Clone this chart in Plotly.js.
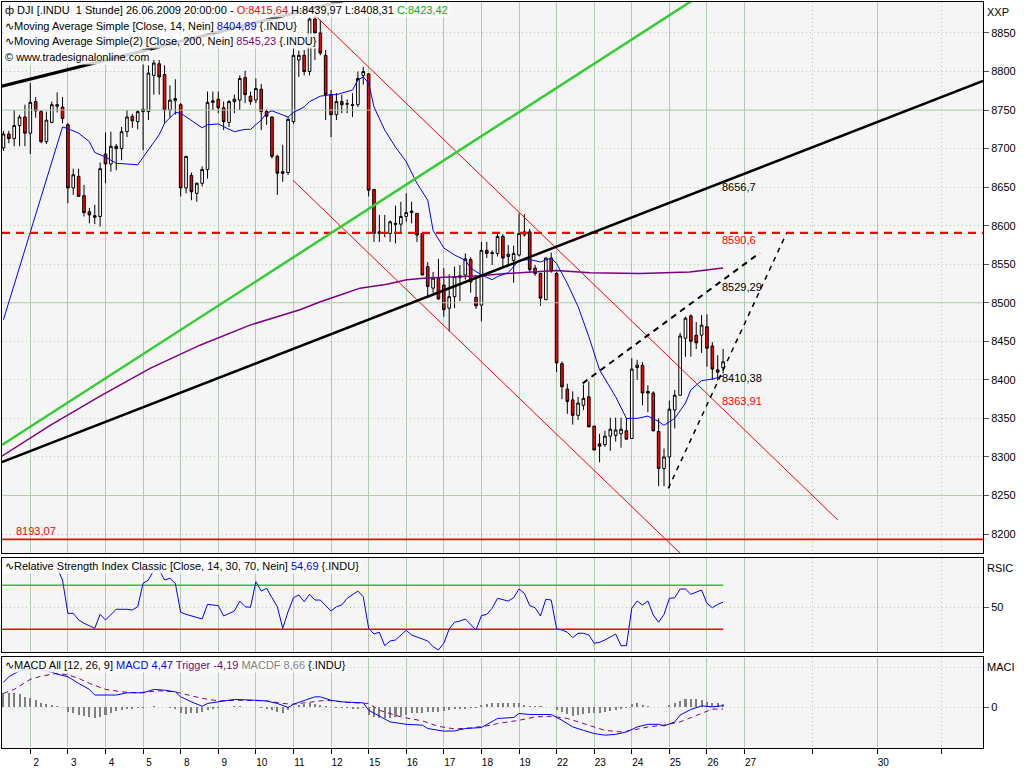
<!DOCTYPE html>
<html><head><meta charset="utf-8">
<script src="https://cdn.plot.ly/plotly-3.0.1.min.js"></script>
<style>html,body{margin:0;padding:0;background:#fff}#chart{width:1024px;height:768px}</style>
</head><body><div id="chart"></div>
<script>
// ---- DJI hourly candles (bar 2 .. 136) ----
const firstBar = 2;
const open = [8701,8719,8713,8730,8741,8720,8761,8748,8709,8734,
 8755,8754,8731,8649,8664,8639,8618,8613,8612,8693,
 8680,8703,8700,8722,8742,8735,8751,8748,8795,8810,
 8796,8750,8762,8757,8649,8665,8642,8655,8673,8760,
 8764,8753,8734,8761,8763,8792,8768,8763,8777,8748,
 8741,8690,8670,8669,8735,8815,8821,8800,8868,8850,
 8821,8770,8744,8761,8758,8757,8757,8795,8797,8647,
 8592,8590,8590,8603,8602,8612,8617,8616,8590,8547,
 8519,8532,8523,8493,8508,8533,8536,8556,8507,8497,
 8568,8565,8564,8586,8560,8555,8562,8588,8592,8545,
 8538,8504,8558,8538,8421,8388,8374,8354,8367,8378,
 8340,8317,8316,8327,8328,8330,8334,8324,8416,8419,
 8385,8383,8333,8285,8300,8361,8380,8454,8483,8458,
 8458,8469,8444,8413,8415.64];
const high = [8723,8723,8750,8744,8757,8785,8767,8750,8748,8761,
 8773,8767,8733,8674,8674,8653,8623,8627,8682,8721,
 8722,8706,8728,8750,8745,8750,8828,8808,8815,8815,
 8808,8782,8790,8759,8690,8669,8656,8677,8774,8774,
 8774,8761,8763,8770,8795,8801,8774,8791,8784,8751,
 8742,8692,8705,8741,8830,8827,8828,8870,8873,8867,
 8828,8776,8772,8770,8764,8772,8800,8806,8797,8647,
 8614,8614,8607,8626,8631,8642,8631,8616,8590,8553,
 8540,8557,8545,8537,8547,8549,8564,8559,8535,8579,
 8579,8568,8589,8589,8575,8574,8616,8615,8596,8549,
 8539,8559,8565,8540,8424,8395,8385,8378,8394,8398,
 8340,8330,8334,8351,8351,8351,8351,8428,8426,8423,
 8393,8385,8350,8311,8373,8387,8461,8482,8485,8475,
 8484,8485,8449,8432,8439.97];
const low = [8697,8707,8703,8703,8703,8693,8740,8707,8706,8733,
 8747,8733,8629,8640,8638,8612,8603,8602,8599,8655,
 8670,8672,8685,8715,8727,8725,8698,8737,8770,8770,
 8733,8740,8744,8638,8642,8633,8631,8651,8661,8750,
 8746,8724,8728,8746,8750,8759,8757,8759,8724,8731,
 8687,8640,8657,8666,8732,8793,8795,8795,8815,8821,
 8737,8715,8737,8746,8746,8741,8754,8783,8638,8579,
 8579,8585,8579,8577,8590,8605,8603,8579,8536,8509,
 8513,8504,8482,8463,8493,8502,8530,8513,8492,8476,
 8558,8549,8560,8547,8549,8526,8560,8586,8539,8535,
 8496,8504,8539,8410,8375,8356,8342,8348,8361,8339,
 8309,8293,8313,8308,8320,8312,8323,8324,8400,8367,
 8358,8333,8262,8262,8260,8337,8380,8430,8430,8440,
 8435,8417,8400,8399,8408.31];
const close = [8719,8713,8730,8741,8720,8760,8749,8709,8737,8757,
 8757,8739,8649,8666,8638,8617,8614,8611,8674,8680,
 8703,8700,8722,8741,8736,8748,8748,8798,8811,8793,
 8750,8763,8765,8649,8690,8644,8655,8673,8760,8762,
 8753,8735,8761,8764,8791,8770,8761,8778,8748,8742,
 8690,8668,8668,8738,8821,8821,8800,8868,8850,8824,
 8770,8744,8761,8757,8758,8756,8791,8800,8646,8590,
 8590,8591,8605,8602,8612,8617,8619,8588,8536,8521,
 8532,8505,8491,8508,8534,8535,8557,8527,8496,8568,
 8564,8564,8586,8558,8563,8564,8590,8592,8543,8538,
 8506,8558,8541,8422,8391,8372,8354,8370,8376,8339,
 8309,8314,8327,8336,8335,8336,8323,8414,8419,8383,
 8383,8334,8285,8300,8362,8380,8457,8480,8450,8448,
 8471,8441,8414,8410,8423.42];
const barNo = open.map((_, i) => firstBar + i);

// ---- Moving averages ----
const ma14Bar = [2,7,13,14,16,18,19,21,22,23,27,29,31,32,34,35,37,39,40,42,44,45,47,48,50,51,52,53,55,56,58,59,61,63,64,67,68,69,70,71,73,75,77,79,81,82,84,86,88,89,91,93,94,96,98,100,102,104,105,107,109,111,113,116,118,120,122,124,125,127,129,130,132,134,136];
const ma14Val = [8478,8592,8728,8726,8720,8709,8695,8689,8685,8681,8679,8698,8718,8733,8747,8746,8737,8727,8731,8732,8725,8722,8725,8725,8737,8746,8749,8746,8741,8747,8754,8761,8768,8770,8770,8776,8789,8793,8785,8754,8724,8702,8683,8655,8633,8594,8571,8562,8555,8545,8536,8530,8534,8539,8555,8556,8553,8558,8551,8525,8495,8456,8413,8378,8350,8350,8353,8346,8341,8350,8370,8387,8399,8401,8404.89];
const ma200Bar = [1.7,10.7,20,29.3,38.6,47.9,57.2,60.9,64.7,68.4,73.4,77.1,80.8,85.8,90.7,95.7,100.7,105,111.2,120.5,129.8,136];
const ma200Val = [8301,8341,8379,8415,8445,8471,8491,8501,8510,8519,8524,8530,8532,8534,8535,8538,8540,8542,8539,8538,8540,8545.23];

// ---- RSI ----
const rsiBar = [11,12,13,14,15,16,17,19,20,21,23,25,26,27,28,29,30,31,32,33,34,35,36,39,40,42,43,45,46,47,48,49,50,51,52,53,54,55,56,57,58,59,60,61,63,64,65,66,68,69,70,71,72,73,74,75,77,78,80,81,82,83,84,85,86,87,88,89,90,91,92,93,94,96,97,98,99,100,101,102,103,104,105,106,107,108,109,110,111,112,113,114,116,117,118,119,120,121,122,123,124,125,126,127,128,129,130,132,133,134,135,136];
const rsiVal = [92.1,85.5,74.8,44.5,44.5,38.5,35.5,30.9,43.6,38.5,48.2,48.2,47.5,50.5,71.8,74.8,83.9,83.9,74.8,76.4,71.8,45.5,43.6,39.4,52.7,51.5,42.1,46.6,55.7,50.5,50,73.3,64.8,67.3,58.7,50.5,30.9,46,58.7,61.2,55.1,61.8,56.6,56.6,46.6,50.5,52.1,58.2,64.8,59.6,30.9,25.7,27.3,15.1,19.4,20.3,29.1,24.8,21.2,19.4,14.2,11.2,17.3,30.3,36.4,37.5,39.4,33.9,29.4,42.4,43.6,49.1,58.2,55.7,58.7,66.6,62.7,51.5,49.6,42.1,57.3,56.6,30.3,29.4,27.3,22.4,26.4,26.4,24.8,17.3,18.2,20.3,25.7,15.1,15.1,49.1,55.7,52.1,55.7,43,36.4,43.6,58.2,58.7,66.6,66.6,61.8,65.7,53.6,49.6,52.7,54.69];
const rsiLevels = [70, 30];

// ---- MACD ----
const macdBar = [2,3,5,7,9,11,12,14,16,18,19,21,23,25,28,30,32,34,35,37,39,40,42,45,49,51,53,55,56,58,60,61,63,65,67,69,70,72,74,77,80,81,84,86,88,91,93,94,97,98,100,104,106,108,110,112,114,116,118,120,122,124,125,127,128,130,132,134,136];
const macdVal = [62.5,76.5,91.5,95,93,88,83,76.5,60,45,31,31,31,36.5,36.5,45,43,39,26.5,14,3,10,14,20,18,16,10,0,8,16.5,26.5,26.5,18,14,12.5,11.5,-7,-22,-36,-42,-44,-52.5,-59,-58.5,-52.5,-50,-36,-27.5,-25,-15,-17.5,-17.5,-32,-48.5,-57,-65,-69,-67,-61,-48.5,-42,-42,-46,-36,-19,-5,4,1.5,4.47];
const trigBar = [2,4,7,9,12,14,16,18,21,24,27,31,34,36,39,42,46,51,54,56,58,62,66,70,72,76,80,83,86,89,93,94,96,98,101,104,107,111,114,117,119,122,125,128,132,134,136];
const trigVal = [35,45,70,78,85,81,72.5,60,45,39,36.5,41.5,39,33,22.5,16.5,18,16.5,10,8,11.5,18,12.5,10,-7,-23.5,-33.5,-47,-53.5,-51,-44,-40,-36,-32,-23.5,-22,-27.5,-44,-57,-61,-57,-48.5,-44,-36,-15,-4,-4.19];
const macdHist = [35,36.7,36.7,33,26.7,22.5,18,11.7,8,6,
 3,0.5,-10.8,-13,-19,-21.7,-23,-27.5,-23,-19,
 -13,-9,-6.7,-5,-5,-2.5,-2.5,0.5,3,1.7,
 0.5,-2.5,-5,-15,-16.7,-15,-15,-10.8,-6.7,-5,
 -2.5,0.5,1.7,3,3,1.7,0.5,0.5,-2.5,-5,
 -6.7,-10.8,-13,-6.7,0.5,6,8,10,8,6,
 3,1.7,-2.5,-2.5,-2.5,-5,-5,-2.5,-19,-23,
 -27.5,-27.5,-26,-23,-21.7,-19,-15,-13,-13,-10.8,
 -10.8,-10.8,-9,-6.7,-5,-5,-4,-2.5,-2.5,6,
 8,10,10,11.7,11.7,11.7,11.7,6,4,4,
 4,1.7,0.5,-6.7,-10.8,-17.5,-21,-19,-17.5,-15,
 -15,-13,-10.8,-8,-6.7,-4,-2.5,8,10,6,
 4,1.7,0.5,1.7,6,10,16,20,21,21,
 18,14,11.7,10,8.66];

// ---- drawn trend lines (bar, price) ----
const blackTopBars = [1.7, 75.8],   blackTopPrices = [8781, 8910];
const blackLongBars = [1.7, 184.4], blackLongPrices = [8293.4, 8787.7];
const greenBars = [1.7, 140],       greenPrices = [8315.5, 8935.8];
const chanUpBars = [60, 157.4],     chanUpPrices = [8873, 8218];
const chanLowBars = [55.9, 140],    chanLowPrices = [8659, 8094.6];
const dash1Bars = [109.85, 142.86], dash1Prices = [8395.5, 8564.9];
const dash2Bars = [125.8, 147.8],   dash2Prices = [8259.3, 8590.1];
const redDashLevel = 8590.6, redSolidLevel = 8193.07;
const lineLabels = [
  {bar: 135.7, price: 8650, text: '8656,7', color: '#000000'},
  {bar: 135.7, price: 8581, text: '8590,6', color: '#ff0000'},
  {bar: 135.7, price: 8520.5, text: '8529,29', color: '#000000'},
  {bar: 135.7, price: 8402.4, text: '8410,38', color: '#000000'},
  {bar: 135.7, price: 8372.6, text: '8363,91', color: '#ff0000'},
  {bar: 4.1, price: 8204, text: '8193,07', color: '#ff0000'}
];

// ---- axes ----
const dayTickBars = [7,14,21,28,35,42,49,56,63,70,77,84,91,98,105,112,119,126,133,140,164.7];
const dayTickLabels = ['2','3','4','5','8','9','10','11','12','15','16','17','18','19','22','23','24','25','26','27','30'];
const minorDayBars = [152.6, 176.7];
const priceTicks = [8200,8250,8300,8350,8400,8450,8500,8550,8600,8650,8700,8750,8800,8850];
const priceSolidGrid = [8250, 8500, 8750];
const xRange = [1.73, 184.4];
const priceRange = [8175.4, 8890.2];
const rsiRange = [9.1, 95.1];
const macdRange = [-101, 126.5];

const GRID = '#b3c9b3';
const DOT = '1px,3px';
const full = (v) => [v, v];
const lastBar = barNo[barNo.length - 1];

const traces = [
  ...priceSolidGrid.map(v => ({type:'scatter', mode:'lines', x: xRange, y: full(v), line:{color:GRID, width:1}, xaxis:'x', yaxis:'y'})),
  {type:'candlestick', x: barNo, open, high, low, close, xaxis:'x', yaxis:'y',
   increasing:{line:{color:'#000', width:1}, fillcolor:'#ffffff'},
   decreasing:{line:{color:'#000', width:1}, fillcolor:'#ff0000'},
   whiskerwidth:0, hoverinfo:'skip', showlegend:false},
  {type:'scatter', mode:'lines', x: ma200Bar, y: ma200Val, line:{color:'#800080', width:1.5}, xaxis:'x', yaxis:'y'},
  {type:'scatter', mode:'lines', x: ma14Bar, y: ma14Val, line:{color:'#0000ff', width:1}, xaxis:'x', yaxis:'y'},
  {type:'scatter', mode:'lines', x: xRange, y: full(redDashLevel), line:{color:'#ff0000', width:2.2, dash:'8px,6px'}, xaxis:'x', yaxis:'y'},
  {type:'scatter', mode:'lines', x: xRange, y: full(redSolidLevel), line:{color:'#ff0000', width:1.6}, xaxis:'x', yaxis:'y'},
  {type:'scatter', mode:'lines', x: chanUpBars, y: chanUpPrices, line:{color:'#ff0000', width:1}, xaxis:'x', yaxis:'y'},
  {type:'scatter', mode:'lines', x: chanLowBars, y: chanLowPrices, line:{color:'#ff0000', width:1}, xaxis:'x', yaxis:'y'},
  {type:'scatter', mode:'lines', x: greenBars, y: greenPrices, line:{color:'#33cc33', width:2.5}, xaxis:'x', yaxis:'y'},
  {type:'scatter', mode:'lines', x: blackTopBars, y: blackTopPrices, line:{color:'#000000', width:3}, xaxis:'x', yaxis:'y'},
  {type:'scatter', mode:'lines', x: blackLongBars, y: blackLongPrices, line:{color:'#000000', width:2.5}, xaxis:'x', yaxis:'y'},
  {type:'scatter', mode:'lines', x: dash1Bars, y: dash1Prices, line:{color:'#000000', width:2, dash:'6px,5px'}, xaxis:'x', yaxis:'y'},
  {type:'scatter', mode:'lines', x: dash2Bars, y: dash2Prices, line:{color:'#000000', width:1.5, dash:'5px,5px'}, xaxis:'x', yaxis:'y'},
  // RSI
  {type:'scatter', mode:'lines', x: [xRange[0], lastBar], y: full(rsiLevels[0]), line:{color:'#22cc22', width:1.5}, xaxis:'x2', yaxis:'y2'},
  {type:'scatter', mode:'lines', x: [xRange[0], lastBar], y: full(rsiLevels[1]), line:{color:'#ff0000', width:1.5}, xaxis:'x2', yaxis:'y2'},
  {type:'scatter', mode:'lines', x: rsiBar, y: rsiVal, line:{color:'#0000ff', width:1}, xaxis:'x2', yaxis:'y2'},
  // MACD
  {type:'bar', x: barNo, y: macdHist, width:0.38, marker:{color:'#808080', line:{width:0}}, xaxis:'x3', yaxis:'y3'},
  {type:'scatter', mode:'lines', x: trigBar, y: trigVal, line:{color:'#800080', width:1, dash:'5px,4px'}, xaxis:'x3', yaxis:'y3'},
  {type:'scatter', mode:'lines', x: macdBar, y: macdVal, line:{color:'#0000ff', width:1}, xaxis:'x3', yaxis:'y3'}
];

const xBase = (anchor, bottom) => ({
  domain:[0,1], anchor, range:xRange, showgrid:true, gridcolor:GRID, gridwidth:1,
  tickmode:'array', tickvals:dayTickBars, ticktext:dayTickLabels,
  showticklabels: bottom, ticks: bottom ? 'outside' : '', ticklen:5, tickcolor:'#000', tickwidth:1,
  ticklabelshift: 6, tickfont:{size:10, color:'#000'},
  minor:{tickvals:minorDayBars, showgrid:true, gridcolor:GRID, griddash:DOT, ticks: bottom ? 'outside' : '', ticklen:5, tickcolor:'#000'},
  showline:true, mirror:true, linecolor:'#000', linewidth:1, zeroline:false,
  rangeslider:{visible:false}, fixedrange:true
});

const priceDomain = [0.2614, 1], rsiDomain = [0.1283, 0.2551], macdDomain = [0, 0.1224];

const legendBg = 'rgba(255,255,255,0.82)';
const topAnn = (text, yDom, shift) => ({xref:'paper', yref:'paper', x:0, y:yDom, xanchor:'left', yanchor:'top',
  xshift:1, yshift:shift, text, showarrow:false, bgcolor:legendBg, borderpad:1, align:'left', font:{size:11, color:'#000'}});

const annotations = [
  topAnn('ф DJI [.INDU\u00a0\u00a01 Stunde] 26.06.2009 20:00:00 - <span style="color:#ff0000">O:8415,64</span> H:8439,97 L:8408,31 <span style="color:#00b400">C:8423,42</span>', 1, 0),
  topAnn('∿Moving Average Simple [Close, 14, Nein] <span style="color:#0000ff">8404,89</span> {.INDU}', 1, -15.5),
  topAnn('∿Moving Average Simple(2) [Close, 200, Nein] <span style="color:#800080">8545,23</span> {.INDU}', 1, -31),
  topAnn('© www.tradesignalonline.com', 1, -46.5),
  topAnn('∿Relative Strength Index Classic [Close, 14, 30, 70, Nein] <span style="color:#0000ff">54,69</span> {.INDU}', rsiDomain[1], 0),
  topAnn('∿MACD All [12, 26, 9] <span style="color:#0000ff">MACD 4,47</span> <span style="color:#800080">Trigger -4,19</span> <span style="color:#808080">MACDF 8,66</span> {.INDU}', macdDomain[1], 0),
  {xref:'paper', yref:'paper', x:1, y:priceDomain[1], xanchor:'left', yanchor:'top', xshift:2, yshift:-2, text:'XXP', showarrow:false, font:{size:11}},
  {xref:'paper', yref:'paper', x:1, y:rsiDomain[1], xanchor:'left', yanchor:'top', xshift:2, yshift:-2, text:'RSIC', showarrow:false, font:{size:11}},
  {xref:'paper', yref:'paper', x:1, y:macdDomain[1], xanchor:'left', yanchor:'top', xshift:2, yshift:-2, text:'MACI', showarrow:false, font:{size:11}}
].concat(lineLabels.map(l => ({xref:'x', yref:'y', x:l.bar, y:l.price, text:l.text, xanchor:'left', yanchor:'middle',
  showarrow:false, font:{size:11, color:l.color}, borderpad:0})));

const yBase = (domain, anchor, range, tickvals, ticktext) => ({
  domain, anchor, range, side:'right', tickmode:'array', tickvals, ticktext,
  showgrid:true, gridcolor:GRID, griddash:DOT, gridwidth:1,
  ticks:'outside', ticklen:5, tickcolor:'#555', tickwidth:1, tickfont:{size:11, color:'#000'},
  showline:true, mirror:true, linecolor:'#000', linewidth:1, zeroline:false, fixedrange:true
});

const layout = {
  width:1024, height:768,
  margin:{l:2, r:41, t:2, b:20, pad:0},
  paper_bgcolor:'#ffffff', plot_bgcolor:'#f5f5f5',
  font:{family:'Liberation Sans, Arial, sans-serif', size:11, color:'#000'},
  showlegend:false, hovermode:false, bargap:0,
  xaxis: xBase('y', false),
  xaxis2: xBase('y2', false),
  xaxis3: xBase('y3', true),
  yaxis: yBase(priceDomain, 'x', priceRange, priceTicks, priceTicks.map(String)),
  yaxis2: yBase(rsiDomain, 'x2', rsiRange, [50], ['50']),
  yaxis3: Object.assign(yBase(macdDomain, 'x3', macdRange, [0], ['0']),
     {minor:{tickvals:[100], showgrid:true, gridcolor:GRID, griddash:DOT, ticks:''}}),
  annotations
};

Plotly.newPlot('chart', traces, layout, {staticPlot:true, displayModeBar:false});
</script></body></html>
